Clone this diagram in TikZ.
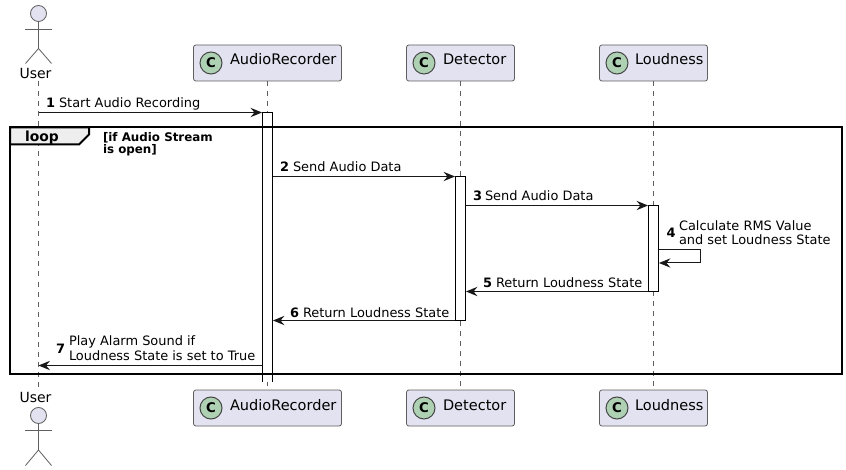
\documentclass[tikz,border=0pt]{standalone}
\usepackage{fontspec}
\setmainfont{DejaVu Sans}
\usetikzlibrary{arrows.meta}
\definecolor{partfill}{HTML}{E2E2F0}
\definecolor{partline}{HTML}{5F5F5F}
\definecolor{circfill}{HTML}{ADD1B2}
\definecolor{tabfill}{HTML}{EEEEEE}
\definecolor{lineclr}{HTML}{181818}
\tikzset{
  x=0.75pt,y=-0.75pt,
  every node/.style={inner sep=0pt,outer sep=0pt,font=\fontsize{9.7}{10.6}\selectfont,text=black},
  lifeline/.style={draw=partline,line width=0.75pt,dash pattern=on 3.75pt off 3.75pt},
  partbox/.style={draw=partline,fill=partfill,line width=0.6pt,rounded corners=1.8pt,minimum width=81pt,minimum height=27pt},
  widebox/.style={partbox,minimum width=111pt},
  namelabel/.style={font=\fontsize{10.9}{12}\selectfont,anchor=base west},
  circ/.style={circle,draw=lineclr!80,fill=circfill,line width=0.75pt,minimum size=16.5pt,font=\fontsize{10}{12}\selectfont\bfseries},
  actorline/.style={draw=partline,line width=0.6pt},
  actorhead/.style={circle,draw=partline,fill=partfill,line width=0.6pt,minimum size=12pt},
  actorname/.style={font=\fontsize{10.5}{12}\selectfont,anchor=base},
  bar/.style={draw=black,fill=white,line width=0.75pt},
  msg/.style={draw=lineclr,line width=0.75pt,-{Stealth[length=8.6pt,width=7pt,inset=3pt]}},
  msgtext/.style={anchor=base west,align=left},
  num/.style={anchor=base west,font=\fontsize{9.7}{10.6}\selectfont\bfseries},
  frameline/.style={draw=black,line width=1.5pt},
  guard/.style={anchor=base west,align=left,font=\fontsize{8.9}{9.2}\selectfont\bfseries},
}
\begin{document}
\begin{tikzpicture}
\useasboundingbox (0,-0.5) rectangle (846,469.5);
\fill[white] (0,-0.5) rectangle (846,469.5);
% lifelines
\coordinate (ua) at (38.5,81); \coordinate (ub) at (38.5,390);
\draw[lifeline] (ua) -- (ub);
\node[widebox] (art) at (267.5,62.5) {};
\node[widebox] (arb) at (267.5,407.5) {};
\node[partbox] (dt) at (460.5,62.5) {};
\node[partbox] (db) at (460.5,407.5) {};
\node[partbox] (lt) at (653.5,62.5) {};
\node[partbox] (lb) at (653.5,407.5) {};
\draw[lifeline] (art) -- (arb);
\draw[lifeline] (dt) -- (db);
\draw[lifeline] (lt) -- (lb);
% header text
\foreach \n/\cx/\tx/\lab in {art/211/230/AudioRecorder,dt/424/443/Detector,lt/617/635/Loudness}{
  \node[circ] (c\n) at (\cx,62.5) {C};
  \node[namelabel] (t\n) at (\tx,64.5) {\lab};
}
\foreach \n/\cx/\tx/\lab in {arb/211/230/AudioRecorder,db/424/443/Detector,lb/617/635/Loudness}{
  \node[circ] (c\n) at (\cx,407.5) {C};
  \node[namelabel] (t\n) at (\tx,409.5) {\lab};
}
% actors
\node[actorhead] (hu) at (38.5,13) {};
\coordinate (hip) at (38.5,48);
\draw[actorline] (hu) -- (hip);
\draw[actorline] (25,29) -- (52,29);
\draw[actorline] (25.5,63) -- (hip) -- (51.5,63);
\node[actorname] (nu) at (35.5,78) {User};
\node[actorname] (nb) at (35.5,402) {User};
\node[actorhead] (hb) at (38.5,415) {};
\coordinate (hipb) at (38.5,449.5);
\draw[actorline] (hb) -- (hipb);
\draw[actorline] (25,430) -- (52,430);
\draw[actorline] (25.5,465) -- (hipb) -- (51.5,465);
% activation bars
\fill[white] (262.5,112) rectangle (272.5,381);
\draw[bar] (262.5,381) -- (262.5,112) -- (272.5,112) -- (272.5,381);
\draw[bar] (455.5,176) rectangle (465.5,320);
\draw[bar] (648.5,205) rectangle (658.5,291);
% loop frame
\draw[frameline,fill=tabfill] (10,127) -- (89,127) -- (89,134) -- (79,144) -- (10,144) -- cycle;
\draw[frameline] (10,127) rectangle (842,373);
\node[anchor=base west,font=\fontsize{10.4}{12}\selectfont\bfseries] (looplab) at (25,141) {loop};
\node[guard] (gd) at (103,153) {[if Audio Stream\\is open]};
% message end points
\coordinate (m1a) at (38.5,112); \coordinate (m1b) at (262,112);
\coordinate (m2a) at (273,176); \coordinate (m2b) at (455,176);
\coordinate (m3a) at (466,205); \coordinate (m3b) at (648,205);
\coordinate (m4a) at (659,249.5); \coordinate (m4c) at (700.5,249.5); \coordinate (m4d) at (700.5,262.5); \coordinate (m4b) at (659,262.5);
\coordinate (m5a) at (648,291); \coordinate (m5b) at (466,291);
\coordinate (m6a) at (455,320); \coordinate (m6b) at (273,320);
\coordinate (m7a) at (262,365); \coordinate (m7b) at (38.5,365);
\draw[msg] (m1a) -- (m1b);
\draw[msg] (m2a) -- (m2b);
\draw[msg] (m3a) -- (m3b);
\draw[msg] (m4a) -- (m4c) -- (m4d) -- (m4b);
\draw[msg] (m5a) -- (m5b);
\draw[msg] (m6a) -- (m6b);
\draw[msg] (m7a) -- (m7b);
% labels
\node[num] (n1) at (46,107.5) {1};
\node[msgtext] (l1) at (59,107.5) {Start Audio Recording};
\node[num] (n2) at (280,171.5) {2};
\node[msgtext] (l2) at (293,171.5) {Send Audio Data};
\node[num] (n3) at (473,200.5) {3};
\node[msgtext] (l3) at (485,200.5) {Send Audio Data};
\node[num] (n4) at (666.5,237.5) {4};
\node[msgtext] (l4) at (679,244.5) {Calculate RMS Value\\and set Loudness State};
\node[num] (n5) at (483,287.5) {5};
\node[msgtext] (l5) at (496,287.5) {Return Loudness State};
\node[num] (n6) at (290,316.5) {6};
\node[msgtext] (l6) at (303,316.5) {Return Loudness State};
\node[num] (n7) at (56,352.5) {7};
\node[msgtext] (l7) at (69,359.5) {Play Alarm Sound if\\Loudness State is set to True};
\end{tikzpicture}
\end{document}
